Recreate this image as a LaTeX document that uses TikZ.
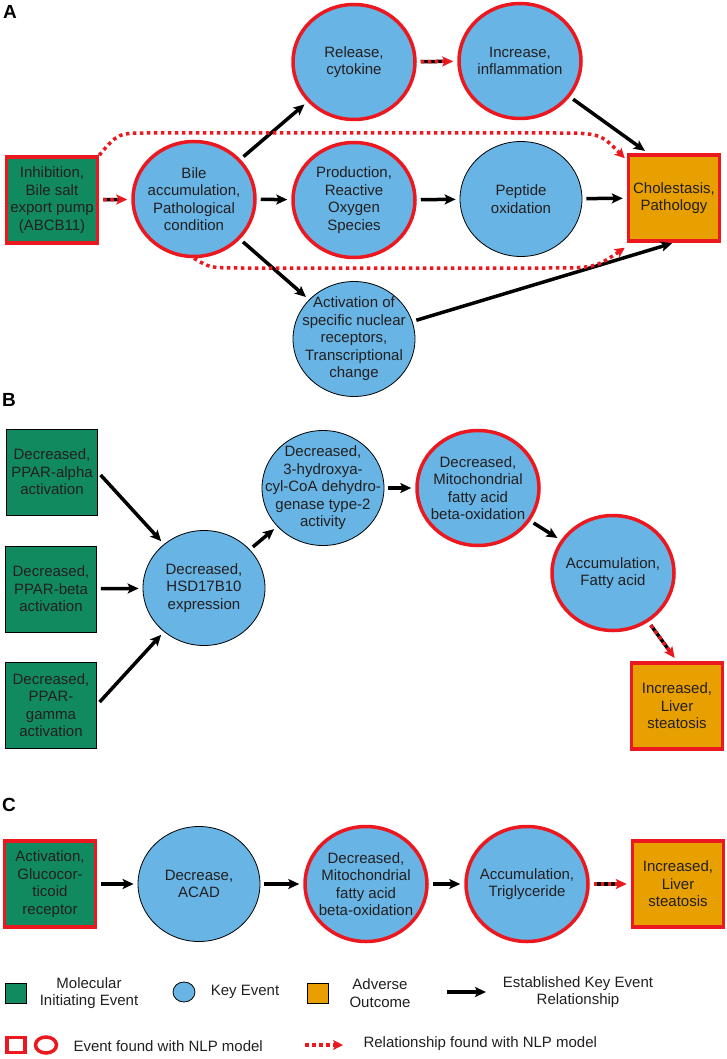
\documentclass[tikz,border=0pt]{standalone}
\usepackage{fontspec}
\setmainfont{Liberation Sans}
\usetikzlibrary{shapes.geometric,arrows.meta}
\definecolor{mieGreen}{RGB}{18,138,96}
\definecolor{keBlue}{RGB}{104,180,228}
\definecolor{aoOrange}{RGB}{232,160,0}
\definecolor{nlpRed}{RGB}{236,24,32}
\definecolor{txtGray}{RGB}{35,31,32}
\begin{document}
\begin{tikzpicture}[x=1pt,y=-1pt,
        every node/.style={font=\fontsize{15}{17.5}\selectfont, text=txtGray, align=center},
        eventbox/.style={rectangle, draw=black, line width=0.8pt, minimum width=91pt, minimum height=86pt, inner sep=1pt},
        mie/.style={eventbox, fill=mieGreen},
        ao/.style={eventbox, fill=aoOrange},
        ke/.style={ellipse, draw=black, line width=0.8pt, fill=keBlue, minimum width=122pt, minimum height=115pt, inner sep=-16pt},
        found/.style={draw=nlpRed, line width=3.5pt},
        ker/.style={line width=3.5pt, -{Stealth[length=11pt,width=10pt,inset=2.5pt]}},
        kerFound/.style={-{Stealth[length=11pt,width=10pt,inset=2.5pt,color=nlpRed]},
            postaction={draw=nlpRed, dash pattern=on 3.5pt off 3.5pt, shorten >=13pt, -}},
        nlprel/.style={draw=nlpRed, line width=3.5pt, dash pattern=on 3.5pt off 3.5pt,
            -{Stealth[length=10pt,width=10pt,inset=2.5pt]}},
        panel/.style={font=\fontsize{19}{20}\selectfont\bfseries, text=black}]
    \useasboundingbox (0,0) rectangle (726,1059);

    % A
    \node[panel] (pa) at (10,12) {A};
    \node[mie, found] (a1) at (52,200) {Inhibition,\\Bile salt\\export pump\\(ABCB11)};
    \node[ke, found] (a2) at (194,199) {Bile\\accumulation,\\Pathological\\condition};
    \node[ke, found] (a3) at (354,62) {Release,\\cytokine};
    \node[ke, found] (a4) at (520,61) {Increase,\\inflammation};
    \node[ke, found] (a5) at (354,200) {Production,\\Reactive\\Oxygen\\Species};
    \node[ke] (a6) at (521,199) {Peptide\\oxidation};
    \node[ao, found] (a7) at (674,198) {Cholestasis,\\Pathology};
    \node[ke] (a8) at (354,339) {Activation of\\specific nuclear\\receptors,\\Transcriptional\\change};

    % B
    \node[panel] (pb) at (9,400) {B};
    \node[mie] (b1) at (52,472) {Decreased,\\PPAR-alpha\\activation};
    \node[mie] (b2) at (51,589) {Decreased,\\PPAR-beta\\activation};
    \node[mie] (b3) at (51,705) {Decreased,\\PPAR-\\gamma\\activation};
    \node[ke] (b4) at (204,588) {Decreased,\\HSD17B10\\expression};
    \node[ke] (b5) at (323,488) {Decreased,\\3-hydroxya-\\cyl-CoA dehydro-\\genase type-2\\activity};
    \node[ke, found] (b6) at (478,488) {Decreased,\\Mitochondrial\\fatty acid\\beta-oxidation};
    \node[ke, found] (b7) at (613,573) {Accumulation,\\Fatty acid};
    \node[ao, found] (b8) at (677,706) {Increased,\\Liver\\steatosis};

    % C
    \node[panel] (pc) at (9,805) {C};
    \node[mie, found] (c1) at (50,884) {Activation,\\Glucocor-\\ticoid\\receptor};
    \node[ke] (c2) at (199,884) {Decrease,\\ACAD};
    \node[ke, found] (c3) at (366,884) {Decreased,\\Mitochondrial\\fatty acid\\beta-oxidation};
    \node[ke, found] (c4) at (527,884) {Accumulation,\\Triglyceride};
    \node[ao, found] (c5) at (678,884) {Increased,\\Liver\\steatosis};

    \begin{scope}[every edge/.style={draw, ker, shorten <=4pt, shorten >=4pt}]
        \path
            (a1) edge [kerFound] (a2)
            (a2) edge (a3)
            (a2) edge (a5)
            (a2) edge (a8)
            (a3) edge [kerFound] (a4)
            (a5) edge (a6)
            (a6) edge (a7)
            (a4) edge (a7.120)
            (a8) edge [shorten >=2pt] (a7.south)
            (b1.east) edge (b4)
            (b2) edge (b4)
            (b3.east) edge (b4)
            (b4) edge (b5)
            (b5) edge (b6)
            (b6) edge (b7)
            (b7) edge [kerFound] (b8.north)
            (c1) edge (c2)
            (c2) edge (c3)
            (c3) edge (c4)
            (c4) edge [kerFound] (c5);
    \end{scope}

    % relationships found with NLP
    \draw[nlprel] (a1.north east) .. controls (118,133) .. (150,133) -- (550,133)
        .. controls (600,133) .. ([xshift=-2pt,yshift=-5pt]a7.north west);
    \draw[nlprel] (a2.south) .. controls (210,268) .. (245,268) -- (545,268)
        .. controls (595,268) .. ([xshift=-2pt,yshift=-5pt]a7.south west);

    % legend
    \node[mie, minimum width=21pt, minimum height=20pt, inner sep=0pt] (l1) at (16,993) {};
    \node (l1t) at (89,993) {Molecular\\Initiating Event};
    \node[ke, minimum width=22pt, minimum height=20pt, inner sep=0pt] (l2) at (184,992) {};
    \node (l2t) at (245,992) {Key Event};
    \node[ao, minimum width=21pt, minimum height=20pt, inner sep=0pt] (l3) at (318,993) {};
    \node (l3t) at (380,993) {Adverse\\Outcome};
    \coordinate (l4a) at (447,992);
    \coordinate (l4b) at (486,992);
    \draw[ker] (l4a) -- (l4b);
    \node (l4t) at (578,992) {Established Key Event\\Relationship};
    \node[rectangle, found, minimum width=18pt, minimum height=15pt, inner sep=0pt] (l5) at (16,1045) {};
    \node[ellipse, found, minimum width=21pt, minimum height=16pt, inner sep=0pt] (l6) at (46,1045) {};
    \node[anchor=west] (l5t) at (70,1046) {Event found with NLP model};
    \coordinate (l7a) at (305,1045);
    \coordinate (l7b) at (343,1045);
    \draw[nlprel] (l7a) -- (l7b);
    \node[anchor=west] (l7t) at (360,1044) {Relationship found with NLP model};
\end{tikzpicture}
\end{document}
